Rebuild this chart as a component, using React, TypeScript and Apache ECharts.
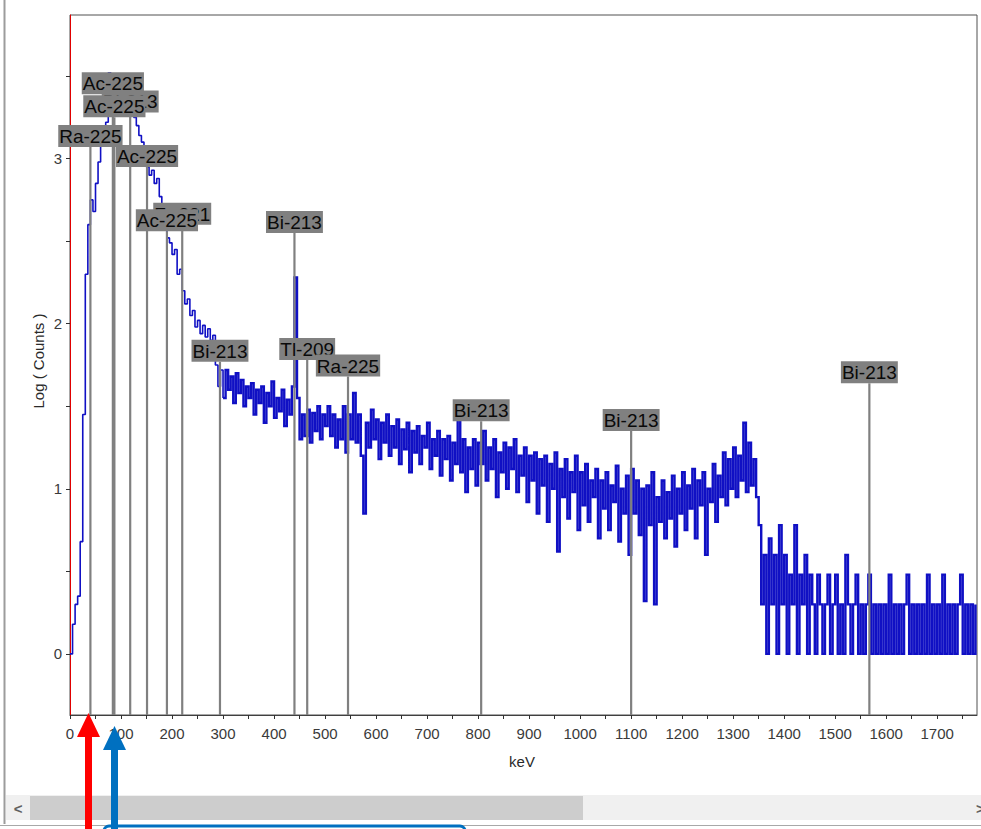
import React, { useEffect, useRef } from "react";
import * as echarts from "echarts";

// ---------- data ----------
const BIN_KEV = 5;
const X_MAX = 1778;
const Y_MIN = -0.37;
const Y_MAX = 3.87;

const lowStartKeV = 0;
const lowLog = [
  0, 0.18, 0.3, 0.35, 0.68, 1.45, 2.3, 2.6, 2.75, 2.68,
  2.85, 2.98, 3.08, 3.15, 3.22, 3.52, 3.27, 3.3, 3.31, 3.33,
  3.3, 3.31, 3.28, 3.3, 3.27, 3.25, 3.2, 3.14, 3.1, 3.02,
  2.95, 2.9, 2.93, 2.85, 2.88, 2.77, 2.7, 2.6, 2.52, 2.49,
  2.42, 2.45, 2.3, 2.33, 2.2, 2.12, 2.15, 2.05, 2.08, 1.98,
  2.02, 1.94, 1.99, 1.92, 1.97, 1.9, 1.93, 1.75, 1.62, 1.72,
];

const midStartKeV = 300;
const midLog = [
  1.55, 1.72, 1.6, 1.68, 1.52, 1.7, 1.58, 1.66, 1.5, 1.62,
  1.55, 1.64, 1.45, 1.6, 1.52, 1.62, 1.4, 1.58, 1.5, 1.65,
  1.43, 1.55, 1.47, 1.6, 1.38, 1.54, 1.45, 1.62, 2.28, 1.55,
  1.3, 1.45, 1.32, 1.48, 1.28, 1.46, 1.35, 1.5, 1.3, 1.45,
  1.38, 1.5, 1.32, 1.45, 1.25, 1.42, 1.3, 1.5, 1.22, 1.45,
  1.3, 1.58, 1.28, 1.45, 1.2, 0.85, 1.4, 1.25, 1.48, 1.3,
  1.42, 1.18, 1.4, 1.28, 1.45, 1.2, 1.38, 1.25, 1.42, 1.15,
  1.36, 1.24, 1.4, 1.1, 1.35, 1.22, 1.38, 1.15, 1.32, 1.25,
  1.4, 1.12, 1.3, 1.2, 1.35, 1.08, 1.3, 1.18, 1.32, 1.05,
  1.28, 1.15, 1.42, 1.1, 1.3, 0.98, 1.25, 1.12, 1.3, 1.02,
  1.28, 1.15, 1.35, 1.05, 1.25, 1.12, 1.3, 0.95, 1.22, 1.1,
  1.28, 1.0, 1.25, 1.12, 1.3, 0.98, 1.2, 1.08, 1.25, 0.92,
  1.2, 1.05, 1.22, 0.85, 1.18, 1.02, 1.2, 0.8, 1.15, 1.0,
  1.22, 0.62, 1.12, 0.95, 1.18, 0.82, 1.1, 0.98, 1.2, 0.75,
];

const highStartKeV = 1000;
const highLog = [
  1.1, 0.9, 1.15, 0.8, 1.05, 0.95, 1.12, 0.7, 1.05, 0.88,
  1.1, 0.75, 1.02, 0.92, 1.14, 0.68, 1.0, 0.85, 1.08, 0.6,
  1.12, 0.85, 1.05, 0.72, 1.0, 0.32, 1.02, 0.78, 1.1, 0.3,
  0.95, 0.8, 1.05, 0.7, 0.98, 0.82, 1.08, 0.65, 1.0, 0.85,
  1.1, 0.75, 1.02, 0.88, 1.12, 0.7, 1.05, 0.9, 1.1, 0.6,
  1.0, 0.92, 1.15, 0.8, 1.08, 0.95, 1.22, 0.9, 1.18, 1.0,
  1.25, 0.95, 1.2, 1.05, 1.4, 0.98, 1.28, 1.02, 1.18, 0.95,
];

const tailStartKeV = 1350;
const tailLog = [
  0.78, 0.3, 0.6, 0, 0.7, 0.3, 0.6, 0, 0.78, 0.3,
  0.6, 0, 0.48, 0.3, 0.78, 0, 0.48, 0.3, 0.6, 0,
  0.48, 0.3, 0, 0.48, 0.3, 0, 0.3, 0.48, 0, 0.3,
  0.48, 0, 0.3, 0, 0.6, 0.3, 0, 0.3, 0.48, 0,
  0.3, 0, 0.3, 0.48, 0, 0.3, 0, 0.3, 0, 0.3,
  0, 0.48, 0, 0.3, 0, 0.3, 0, 0.3, 0.48, 0,
  0.3, 0, 0.3, 0, 0.3, 0, 0.48, 0, 0.3, 0,
  0.3, 0, 0.48, 0, 0.3, 0, 0.3, 0, 0.3, 0.48,
  0, 0.3, 0, 0.3, 0, 0.3,
];

// peak markers (drawn in this order, later on top)
const peakEnergies = [118, 220, 84, 87, 151, 190, 440, 294, 465, 545, 40, 806, 1100, 1567];
const peakNames = [
  "Bi-213", "Fr-221", "Ac-225", "Ac-225", "Ac-225", "Ac-225", "Bi-213",
  "Bi-213", "Tl-209", "Ra-225", "Ra-225", "Bi-213", "Bi-213", "Bi-213",
];
const peakLabelLevels = [3.28, 2.6, 3.39, 3.25, 2.95, 2.56, 2.55, 1.77, 1.78, 1.68, 3.07, 1.41, 1.35, 1.64];

const xTickLabels = [0, 100, 200, 300, 400, 500, 600, 700, 800, 900, 1000, 1100, 1200, 1300, 1400, 1500, 1600, 1700];
const xMinorTicks = [50, 150, 250, 350, 450, 550, 650, 750, 850, 950, 1050, 1150, 1250, 1350, 1450, 1550, 1650, 1750];
const yTickLabels = [0, 1, 2, 3];
const yMinorTicks = [0.5, 1.5, 2.5, 3.5];

function toSeries(start: number, vals: number[]) {
  return vals.map((v, i) => [start + i * BIN_KEV, v]);
}

export default function App() {
  const ref = useRef<HTMLDivElement>(null);
  useEffect(() => {
    if (!ref.current) return;
    const chart = echarts.init(ref.current, undefined, { renderer: "svg" });
    const lowPart = toSeries(lowStartKeV, lowLog);
    const noisyPart = [
      ...toSeries(midStartKeV, midLog),
      ...toSeries(highStartKeV, highLog),
      ...toSeries(tailStartKeV, tailLog),
    ];
    const font = '"Liberation Sans", Arial, sans-serif';
    const xTicksAll = [...xTickLabels, ...xMinorTicks].sort((a, b) => a - b);
    const yTicksAll = [...yTickLabels, ...yMinorTicks].sort((a, b) => a - b);
    const blue = "#1010c4";

    chart.setOption({
      animation: false,
      backgroundColor: "#ffffff",
      grid: {
        left: 70,
        top: 15,
        right: 4,
        bottom: 114,
        show: true,
        borderColor: "#505050",
        borderWidth: 1,
        backgroundColor: "#ffffff",
      },
      xAxis: {
        type: "value",
        min: 0,
        max: X_MAX,
        interval: 100,
        axisLine: { show: true, onZero: false, lineStyle: { color: "#404040", width: 1 } },
        axisTick: { show: true, length: 4, customValues: xTicksAll, lineStyle: { color: "#303030" } },
        axisLabel: {
          customValues: xTickLabels,
          formatter: (v: number) => String(v),
          margin: 11,
          fontSize: 15,
          fontFamily: font,
          color: "#3a3a3a",
        },
        splitLine: { show: false },
      },
      yAxis: {
        type: "value",
        min: Y_MIN,
        max: Y_MAX,
        axisLine: { show: true, onZero: false, lineStyle: { color: "#e00000", width: 1 } },
        axisTick: { show: true, length: 4, customValues: yTicksAll, lineStyle: { color: "#303030" } },
        axisLabel: {
          customValues: yTickLabels,
          formatter: (v: number) => String(v),
          margin: 8,
          fontSize: 15,
          fontFamily: font,
          color: "#3a3a3a",
        },
        splitLine: { show: false },
      },
      series: [
        {
          type: "line",
          step: "end",
          data: [...lowPart, noisyPart[0]],
          showSymbol: false,
          symbol: "none",
          lineStyle: { color: blue, width: 1.6 },
          z: 2,
        },
        {
          type: "line",
          step: "end",
          data: noisyPart,
          showSymbol: false,
          symbol: "none",
          lineStyle: { color: blue, width: 2.4, join: "miter" },
          z: 2,
        },
        {
          type: "custom",
          z: 5,
          clip: false,
          data: peakEnergies.map((e, i) => [e, peakLabelLevels[i], i]),
          encode: { x: 0, y: 1 },
          renderItem: (_params: any, api: any) => {
            const e = api.value(0);
            const lv = api.value(1);
            const idx = api.value(2);
            const top = api.coord([e, lv]);
            const bot = api.coord([e, Y_MIN]);
            return {
              type: "group",
              children: [
                {
                  type: "line",
                  shape: { x1: top[0], y1: top[1], x2: bot[0], y2: bot[1] },
                  style: { stroke: "#808080", lineWidth: 2.2 },
                },
                {
                  type: "text",
                  x: top[0],
                  y: top[1],
                  style: {
                    text: peakNames[idx],
                    fill: "#0a0a0a",
                    fontSize: 19,
                    fontFamily: font,
                    align: "center",
                    verticalAlign: "bottom",
                    backgroundColor: "#808080",
                    padding: [2, 1, 1, 1],
                  },
                },
              ],
            };
          },
        },
      ],
      graphic: [
        {
          type: "text",
          x: 38,
          y: 361,
          rotation: Math.PI / 2,
          style: { text: "Log ( Counts )", fontSize: 15, fontFamily: font, fill: "#2a2a2a", align: "center", verticalAlign: "middle" },
        },
        {
          type: "text",
          x: 522,
          y: 761,
          style: { text: "keV", fontSize: 15, fontFamily: font, fill: "#2a2a2a", align: "center", verticalAlign: "middle" },
        },
        { type: "line", shape: { x1: 4.5, y1: 0, x2: 4.5, y2: 824 }, style: { stroke: "#9c9c9c", lineWidth: 2 } },
        { type: "rect", shape: { x: 6, y: 795, width: 975, height: 25 }, style: { fill: "#f0f0f0" } },
        { type: "rect", shape: { x: 30, y: 796, width: 553, height: 24 }, style: { fill: "#cdcdcd" } },
        { type: "text", x: 18, y: 808, style: { text: "<", fontSize: 15, fontWeight: "bold", fontFamily: font, fill: "#606060", align: "center", verticalAlign: "middle" } },
        { type: "text", x: 976, y: 808, style: { text: ">", fontSize: 15, fontWeight: "bold", fontFamily: font, fill: "#606060", align: "left", verticalAlign: "middle" } },
        { type: "line", shape: { x1: 0, y1: 825.5, x2: 981, y2: 825.5 }, style: { stroke: "#a8a8a8", lineWidth: 1 } },
        { type: "rect", z: 100, shape: { x: 104, y: 826, width: 361, height: 30, r: 5 }, style: { fill: "none", stroke: "#0070c0", lineWidth: 3 } },
        { type: "rect", z: 100, shape: { x: 85, y: 736, width: 7, height: 93 }, style: { fill: "#ff0000" } },
        { type: "polygon", z: 100, shape: { points: [[77, 737], [100, 737], [88.5, 713]] }, style: { fill: "#ff0000" } },
        { type: "rect", z: 100, shape: { x: 111, y: 749, width: 7, height: 80 }, style: { fill: "#0070c0" } },
        { type: "polygon", z: 100, shape: { points: [[103, 750], [126, 750], [114.5, 726]] }, style: { fill: "#0070c0" } },
      ],
    });
    return () => chart.dispose();
  }, []);
  return (
    <div
      ref={ref}
      style={{ position: "fixed", left: 0, top: 0, width: 981, height: 829, background: "#fff" }}
    />
  );
}
